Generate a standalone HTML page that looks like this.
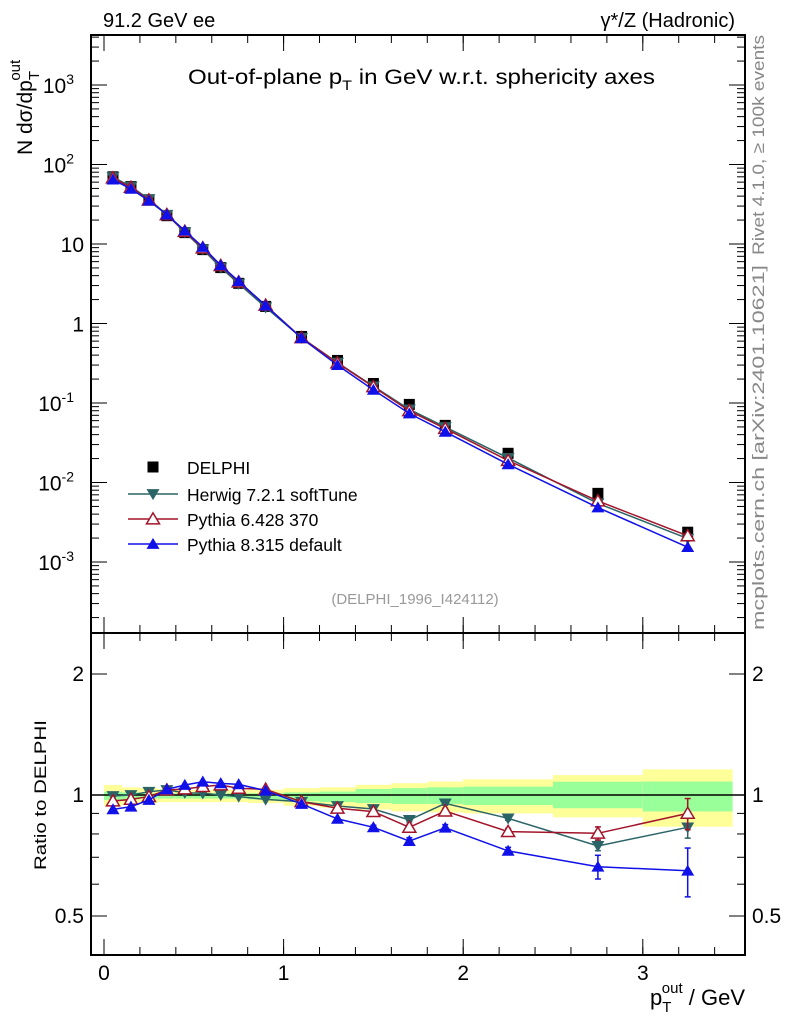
<!DOCTYPE html>
<html><head><meta charset="utf-8"><style>
body{margin:0;background:#fff}
svg{display:block;font-family:"Liberation Sans","DejaVu Sans",sans-serif}
</style></head><body>
<svg id="c" width="786" height="1024" viewBox="0 0 786 1024">
<g id="bands"></g>
<g id="grid"></g>
<g id="series"></g>
<text x="103" y="27" font-size="20">91.2 GeV ee</text>
<text x="735" y="27" font-size="20" text-anchor="end">γ*/Z (Hadronic)</text>
<text x="188" y="84" font-size="21" textLength="467" lengthAdjust="spacingAndGlyphs">Out-of-plane p<tspan font-size="14" dy="6">T</tspan><tspan dy="-6"> in GeV w.r.t. sphericity axes</tspan></text>
<text transform="translate(32,155) rotate(-90)" font-size="21">N  dσ/dp<tspan font-size="15" dy="7">T</tspan><tspan font-size="15" dx="-8" dy="-19">out</tspan></text>
<text transform="translate(46,795) rotate(-90)" font-size="17" text-anchor="middle" textLength="150" lengthAdjust="spacingAndGlyphs">Ratio to DELPHI</text>
<text transform="translate(764,255) rotate(-90)" font-size="17" fill="#888" textLength="220" lengthAdjust="spacingAndGlyphs">Rivet 4.1.0, ≥ 100k events</text>
<text transform="translate(764,630) rotate(-90)" font-size="17" fill="#888" textLength="365" lengthAdjust="spacingAndGlyphs">mcplots.cern.ch [arXiv:2401.10621]</text>
<text x="415" y="604" font-size="15" fill="#999" text-anchor="middle">(DELPHI_1996_I424112)</text>
<text x="745" y="1005" font-size="22" text-anchor="end">p<tspan font-size="15" dy="7">T</tspan><tspan font-size="15" dx="-8" dy="-19">out</tspan><tspan dy="12"> / GeV</tspan></text>
<g id="legend"></g>
</svg>
<script>
const xs=[0.05,0.15,0.25,0.35,0.45,0.55,0.65,0.75,0.9,1.1,1.3,1.5,1.7,1.9,2.25,2.75,3.25];
const xlo=[0,0.1,0.2,0.3,0.4,0.5,0.6,0.7,0.8,1.0,1.2,1.4,1.6,1.8,2.0,2.5,3.0];
const xhi=[0.1,0.2,0.3,0.4,0.5,0.6,0.7,0.8,1.0,1.2,1.4,1.6,1.8,2.0,2.5,3.0,3.5];
const dataY=[70,52.8,36,22.7,13.9,8.5,5.05,3.2,1.64,0.687,0.343,0.176,0.096,0.0523,0.0233,0.0073,0.00237];
const herwigR=[0.994,1.0,1.019,1.029,1.013,1.010,1.0,0.991,0.975,0.962,0.939,0.923,0.867,0.953,0.875,0.747,0.831];
const py6R=[0.966,0.975,0.991,1.029,1.035,1.049,1.059,1.039,1.033,0.962,0.927,0.909,0.831,0.912,0.811,0.803,0.900];
const py8R=[0.921,0.935,0.972,1.033,1.059,1.079,1.069,1.063,1.025,0.950,0.872,0.831,0.768,0.829,0.726,0.663,0.648];
const herwigE=[0,0,0,0,0,0,0,0,0,0,0,0,0.01,0.01,0.01,0.02,0.05];
const py6E=[0,0,0,0,0,0,0,0,0,0,0,0.01,0.015,0.015,0.015,0.03,0.08];
const py8E=[0,0,0,0,0,0,0,0,0,0,0,0.01,0.015,0.015,0.015,0.045,0.09];
const yelHi=[1.059,1.045,1.04,1.035,1.03,1.03,1.03,1.03,1.03,1.04,1.045,1.06,1.07,1.08,1.094,1.121,1.158];
const yelLo=[0.94,0.945,0.955,0.96,0.96,0.96,0.96,0.96,0.955,0.94,0.93,0.92,0.91,0.905,0.9,0.88,0.834];
const grnHi=[1.019,1.015,1.01,1.01,1.01,1.01,1.01,1.01,1.01,1.015,1.02,1.035,1.04,1.045,1.049,1.079,1.08];
const grnLo=[0.972,0.975,0.98,0.98,0.98,0.98,0.98,0.98,0.975,0.965,0.96,0.955,0.95,0.95,0.944,0.927,0.91];
const xTicks=[0,1,2,3];
const mainTickLabels=[["10","-3",-3],["10","-2",-2],["10","-1",-1],["1","",0],["10","",1],["10","2",2],["10","3",3]];
const ratioTickLabels=[["0.5",0.5],["1",1],["2",2]];

const NS='http://www.w3.org/2000/svg';
const L=91,R=745,T1=35,B1=633,T2=633,B2=955;
const X=v=>104+v*179.6;
const Ym=v=>323.5-Math.log10(v)*79.5;
const Yr=v=>795-Math.log10(v)*402;
function mk(tag,at,par){const e=document.createElementNS(NS,tag);for(const k in at)e.setAttribute(k,at[k]);(par||document.getElementById('c')).appendChild(e);return e;}
const G=document.getElementById('grid'),S=document.getElementById('series'),B=document.getElementById('bands'),LG=document.getElementById('legend');

for(let i=0;i<xs.length;i++){
  const y=mk('rect',{x:X(xlo[i]),y:Yr(yelHi[i]),width:X(xhi[i])-X(xlo[i]),height:Yr(yelLo[i])-Yr(yelHi[i]),fill:'#ffff99'},B);
  
  
  const g=mk('rect',{x:X(xlo[i]),y:Yr(grnHi[i]),width:X(xhi[i])-X(xlo[i]),height:Yr(grnLo[i])-Yr(grnHi[i]),fill:'#99ff99'},B);
  
  
}
for(const [t,b] of [[T1,B1],[T2,B2]]){
  const f=mk('rect',{x:L,y:t,width:R-L,height:b-t,fill:'none',stroke:'#000','stroke-width':2},G);
  
  
  for(let k=0;k<=17;k++){const v=k*0.2;if(X(v)>R)break;mk('line',{x1:X(v),x2:X(v),y1:b,y2:b-8,stroke:'#000'},G);mk('line',{x1:X(v),x2:X(v),y1:t,y2:t+8,stroke:'#000'},G);}
  for(const v of xTicks){mk('line',{x1:X(v),x2:X(v),y1:b,y2:b-16,stroke:'#000'},G);mk('line',{x1:X(v),x2:X(v),y1:t,y2:t+16,stroke:'#000'},G);}
}
for(let d=-4;d<=3;d++){for(let m=1;m<10;m++){const v=m*Math.pow(10,d);const y=Ym(v);if(y<T1||y>B1)continue;const len=m==1?16:8;
  mk('line',{x1:L,x2:L+len,y1:y,y2:y,stroke:'#000'},G);mk('line',{x1:R,x2:R-len,y1:y,y2:y,stroke:'#000'},G);}}
for(const [b,e,d] of mainTickLabels){const t=mk('text',{x:e?74:84,y:Ym(Math.pow(10,d))+8,'font-size':21,'text-anchor':'end'},G);
  
  
  t.textContent=b;if(e){const s=mk('tspan',{'font-size':14,dy:-9},t);s.textContent=e;}}
for(const v of [0.4,0.5,0.6,0.7,0.8,0.9,1,2]){const y=Yr(v);const len=(v==1||v==2||v==0.5)?16:8;
  mk('line',{x1:L,x2:L+len,y1:y,y2:y,stroke:'#000'},G);mk('line',{x1:R,x2:R-len,y1:y,y2:y,stroke:'#000'},G);}
for(const [s,v] of ratioTickLabels){
  const a=mk('text',{x:84,y:Yr(v)+7,'font-size':21,'text-anchor':'end'},G);a.textContent=s;
  
  
  const b=mk('text',{x:752,y:Yr(v)+7,'font-size':21},G);b.textContent=s;
  
  
}
mk('line',{x1:L,x2:R,y1:Yr(1),y2:Yr(1),stroke:'#000','stroke-width':1.5},G);
for(const v of xTicks){const t=mk('text',{x:X(v),y:980,'font-size':21,'text-anchor':'middle'},G);t.textContent=v;
  
  }

function marker(type,x,y,col,par){
  const s=6.5;
  if(type=='sq'){return mk('rect',{x:x-5.5,y:y-5.5,width:11,height:11,fill:'#000'},par);}
  if(type=='down')return mk('polygon',{points:`${x-s},${y-s*0.75} ${x+s},${y-s*0.75} ${x},${y+s*0.95}`,fill:col},par);
  if(type=='upo')return mk('polygon',{points:`${x-s},${y+s*0.75} ${x+s},${y+s*0.75} ${x},${y-s*0.95}`,fill:'#fff',stroke:col,'stroke-width':1.5},par);
  return mk('polygon',{points:`${x-s},${y+s*0.75} ${x+s},${y+s*0.75} ${x},${y-s*0.95}`,fill:col},par);
}
const series=[
  {name:'herwig',r:herwigR,e:herwigE,col:'#2b6467',m:'down',label:'Herwig 7.2.1 softTune'},
  {name:'pythia6',r:py6R,e:py6E,col:'#a3142a',m:'upo',label:'Pythia 6.428 370'},
  {name:'pythia8',r:py8R,e:py8E,col:'#1010e8',m:'up',label:'Pythia 8.315 default'}];
for(let i=0;i<xs.length;i++){const m=marker('sq',X(xs[i]),Ym(dataY[i]),'#000',S);
  
  }
for(const s of series){
  const ptsM=xs.map((x,i)=>X(x)+','+Ym(dataY[i]*s.r[i])).join(' ');
  const pl=mk('polyline',{points:ptsM,fill:'none',stroke:s.col,'stroke-width':1.5},S);
  
  
  const ptsR=xs.map((x,i)=>X(x)+','+Yr(s.r[i])).join(' ');
  const pr=mk('polyline',{points:ptsR,fill:'none',stroke:s.col,'stroke-width':1.5},S);
  
  
  for(let i=0;i<xs.length;i++){
    const m=marker(s.m,X(xs[i]),Ym(dataY[i]*s.r[i]),s.col,S);
    
    
    if(s.e[i]>0){const x=X(xs[i]);const y1=Yr(s.r[i]+s.e[i]),y2=Yr(s.r[i]-s.e[i]);
      mk('line',{x1:x,x2:x,y1:y1,y2:y2,stroke:s.col,'stroke-width':1.5},S);
      mk('line',{x1:x-3,x2:x+3,y1:y1,y2:y1,stroke:s.col,'stroke-width':1.5},S);
      mk('line',{x1:x-3,x2:x+3,y1:y2,y2:y2,stroke:s.col,'stroke-width':1.5},S);}
    const r=marker(s.m,X(xs[i]),Yr(s.r[i]),s.col,S);
    
    
  }
}
{const m=marker('sq',153,467,'#000',LG);
 const t=mk('text',{x:187,y:474,'font-size':17.5},LG);t.textContent='DELPHI';}
series.forEach((s,k)=>{const y=494+k*25;
  mk('line',{x1:128,x2:178,y1:y,y2:y,stroke:s.col,'stroke-width':1.5},LG);
  const m=marker(s.m,153,y,s.col,LG);
  const t=mk('text',{x:187,y:y+7,'font-size':17.5},LG);t.textContent=s.label;
  
  });
</script>
</body></html>
